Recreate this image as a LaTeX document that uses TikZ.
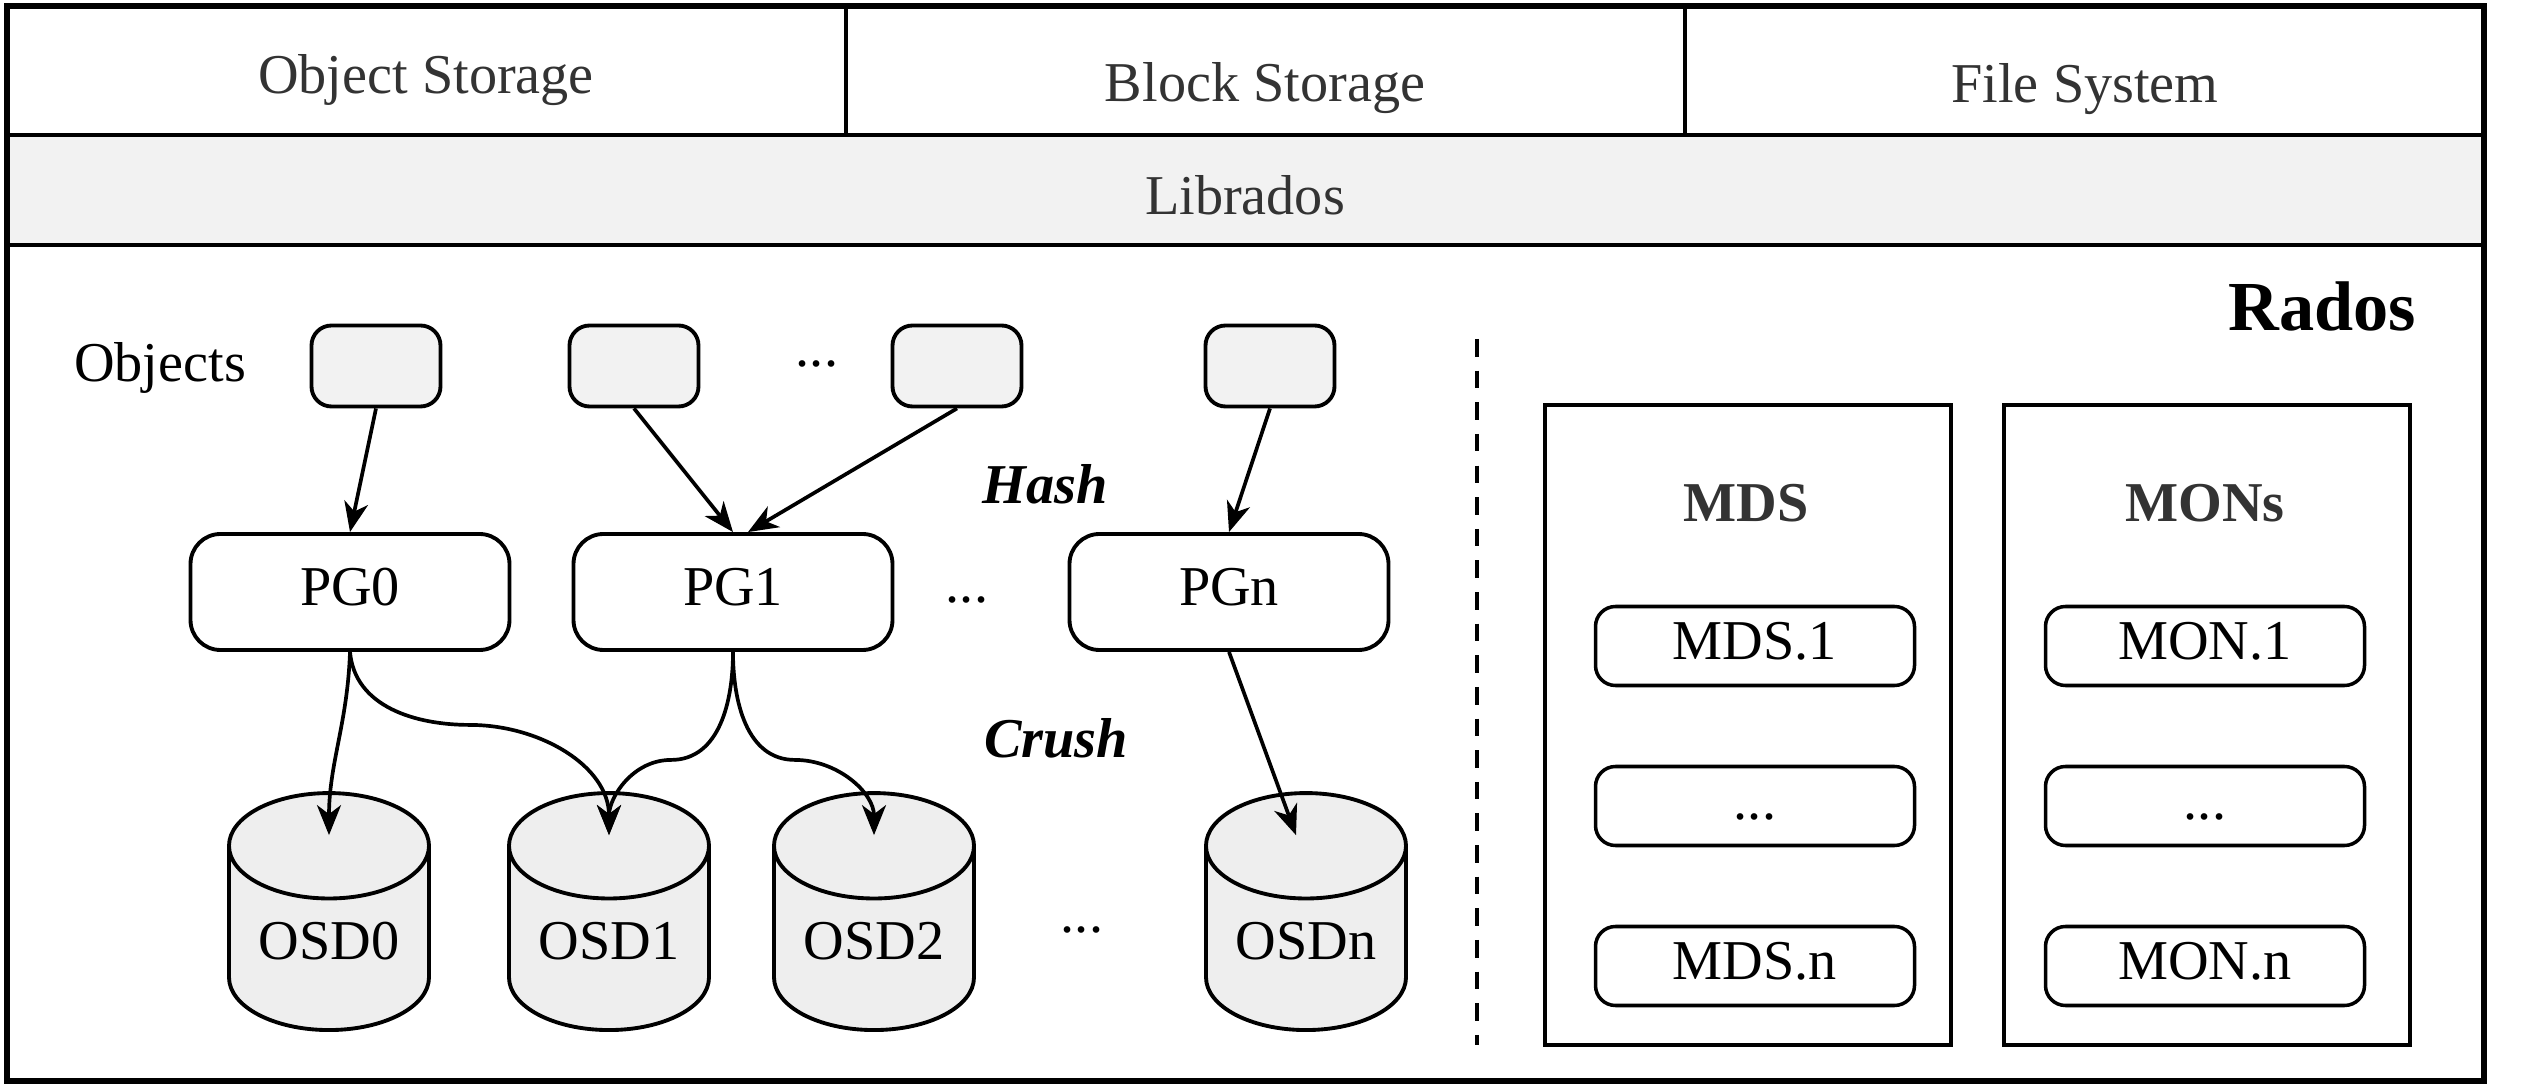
\documentclass[tikz,border=0pt]{standalone}
\usepackage{fontspec}
\setmainfont{Liberation Serif}
\usetikzlibrary{calc,arrows.meta,positioning,shapes.geometric}
\definecolor{txtc}{HTML}{333333}
\definecolor{libbg}{HTML}{F2F2F2}
\definecolor{objbg}{HTML}{F2F2F2}
\definecolor{osdbg}{HTML}{EEEEEE}
\tikzset{
  ar/.style={-{Stealth[length=3mm,width=2.4mm,inset=0.9mm]},line width=1.05pt},
  obj/.style={draw,line width=1.1pt,rounded corners=2mm,fill=objbg,minimum width=1.29cm,minimum height=0.81cm},
  pg/.style={draw,line width=1.1pt,rounded corners=3mm,minimum width=3.19cm,minimum height=1.16cm,text height=2ex,text depth=0.3ex},
  osd/.style={cylinder,shape border rotate=90,aspect=4.5,draw,line width=1.1pt,fill=osdbg,minimum width=2cm,minimum height=2.37cm,anchor=bottom},
  item/.style={draw,line width=1pt,rounded corners=2mm,minimum width=3.19cm,minimum height=0.79cm,text height=2ex,text depth=0.3ex},
  grp/.style={draw,line width=1pt,minimum width=4.06cm,minimum height=6.40cm},
  op/.style={font=\fontsize{16pt}{19pt}\selectfont\bfseries\itshape}
}
\begin{document}
\begin{tikzpicture}[font=\fontsize{16pt}{19pt}\selectfont]
\useasboundingbox (0,0) rectangle (25.28,10.88);
% layers on top
\fill[libbg] (0.07,8.43) rectangle (24.84,9.53);
\draw[line width=1pt] (0.07,9.53) -- (24.84,9.53) (0.07,8.43) -- (24.84,8.43);
\draw[line width=1pt] (8.46,9.53) -- (8.46,10.82) (16.85,9.53) -- (16.85,10.82);
\draw[line width=1.7pt] (0.07,0.07) rectangle (24.84,10.82);
\node[txtc] (objst) at (4.26,10.08) {Object Storage};
\node[txtc] (blkst) at (12.65,10.0) {Block Storage};
\node[txtc] (filesys) at (20.85,9.99) {File System};
\node[txtc] (librados) at (12.45,8.93) {Librados};
\node[font=\fontsize{20pt}{24pt}\selectfont\bfseries] (rados) at (23.22,7.82) {Rados};
% objects
\node (objlbl) at (1.60,7.20) {Objects};
\node[obj] (o1) at (3.76,7.22) {};
\node[obj] (o2) at (6.34,7.22) {};
\node[obj] (o3) at (9.57,7.22) {};
\node[obj] (o4) at (12.70,7.22) {};
\node (odots) at (8.17,7.24) {...};
% placement groups
\node[pg] (pg0) at (3.50,4.96) {PG0};
\node[pg] (pg1) at (7.33,4.96) {PG1};
\node[pg] (pgn) at (12.29,4.96) {PGn};
\node (pgdots) at (9.67,4.88) {...};
\node[op] (hash) at (10.45,6.04) {Hash};
\node[op] (crush) at (10.56,3.50) {Crush};
% osds
\node[osd,label={[yshift=0.1cm]center:OSD0}] (osd0) at (3.29,0.56) {};
\node[osd,label={[yshift=0.1cm]center:OSD1}] (osd1) at (6.09,0.56) {};
\node[osd,label={[yshift=0.1cm]center:OSD2}] (osd2) at (8.74,0.56) {};
\node[osd,label={[yshift=0.1cm]center:OSDn}] (osdn) at (13.06,0.56) {};
\node (osddots) at (10.82,1.58) {...};
% hash
\draw[ar] (o1.south) -- (pg0.north);
\draw[ar] (o2.south) -- (pg1.north);
\draw[ar] (o3.south) -- ([xshift=1.5mm]pg1.north);
\draw[ar] (o4.south) -- (pgn.north);
% crush
\draw[ar] (pg0.south) to[out=-92,in=90] ($(osd0.top)+(0,-0.44)$);
\draw[ar] (pg0.south) to[out=-85,in=180] ++(1.2,-0.73) to[out=0,in=90] ($(osd1.top)+(0,-0.44)$);
\draw[ar] (pg1.south) to[out=-90,in=0] ++(-0.62,-1.08) to[out=180,in=90] ($(osd1.top)+(0,-0.44)$);
\draw[ar] (pg1.south) to[out=-90,in=180] ++(0.62,-1.08) to[out=0,in=90] ($(osd2.top)+(0,-0.44)$);
\draw[ar] (pgn.south) -- ($(osdn.top)+(-0.1,-0.44)$);
% separator
\draw[line width=1pt,dashed,dash pattern=on 5pt off 4pt] (14.77,7.49) -- (14.77,0.43);
% mds and mons
\node[grp] (mds) at (17.48,3.63) {};
\node[grp] (mons) at (22.07,3.63) {};
\node[txtc,font=\fontsize{16pt}{19pt}\selectfont\bfseries] (mdslbl) at (17.46,5.85) {MDS};
\node[txtc,font=\fontsize{16pt}{19pt}\selectfont\bfseries] (monlbl) at (22.05,5.85) {MONs};
\node[item] (mds1) at (17.55,4.42) {MDS.1};
\node[item] (mdsd) at (17.55,2.82) {...};
\node[item] (mdsn) at (17.55,1.22) {MDS.n};
\node[item] (mon1) at (22.05,4.42) {MON.1};
\node[item] (mond) at (22.05,2.82) {...};
\node[item] (monn) at (22.05,1.22) {MON.n};
\end{tikzpicture}
\end{document}
